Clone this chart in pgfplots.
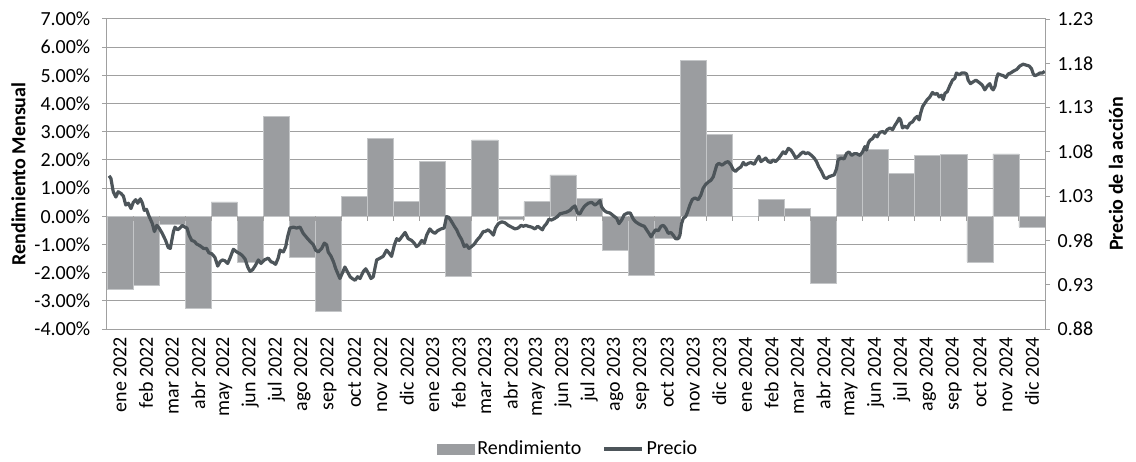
\documentclass[border=0pt]{standalone}
\usepackage{pgfplots}
\pgfplotsset{compat=1.18}
\usepackage{fontspec}
\setmainfont{Carlito}
\definecolor{barfill}{RGB}{155,157,160}
\definecolor{baredge}{RGB}{196,198,200}
\definecolor{linecol}{RGB}{77,85,90}
\definecolor{gridc}{RGB}{160,160,160}
\pgfplotsset{/pgf/number format/assume math mode=true,
  every tick label/.append style={font=\fontsize{15}{18}\selectfont},
  every axis label/.append style={font=\fontsize{15}{18}\selectfont\bfseries}}
\begin{document}
\begin{tikzpicture}[font=\fontsize{15}{18}\selectfont]
\useasboundingbox (-80.25pt,-99pt) rectangle (771.75pt,246.75pt);
\begin{axis}[
  scale only axis, width=703.5pt, height=232.5pt,
  xmin=-0.5, xmax=35.5, ymin=-4, ymax=7,
  axis line style={gridc, line width=0.75pt},
  ytick={-4,-3,-2,-1,0,1,2,3,4,5,6,7},
  yticklabel={\pgfmathprintnumber[fixed,fixed zerofill,precision=2]{\tick}\%},
  yticklabel style={xshift=-5.25pt},
  ytick pos=left, tick align=outside, major tick length=3.75pt,
  ytick style={gridc, line width=0.75pt},
  ymajorgrids, grid style={gridc, line width=0.75pt},
  xtick={0,...,35}, xtick pos=bottom, xtick style={draw=none},
  xticklabels={ene 2022,feb 2022,mar 2022,abr 2022,may 2022,jun 2022,jul 2022,ago 2022,sep 2022,oct 2022,nov 2022,dic 2022,ene 2023,feb 2023,mar 2023,abr 2023,may 2023,jun 2023,jul 2023,ago 2023,sep 2023,oct 2023,nov 2023,dic 2023,ene 2024,feb 2024,mar 2024,abr 2024,may 2024,jun 2024,jul 2024,ago 2024,sep 2024,oct 2024,nov 2024,dic 2024},
  xticklabel style={rotate=90, anchor=east, inner sep=2pt},
  every axis y label/.style={at={(rel axis cs:0,0.5)}, anchor=center, rotate=90, yshift=66.4pt},
  ylabel={Rendimiento Mensual},
  ybar, bar width=1,
  legend columns=2,
  legend style={draw=none, fill=none, at={(rel axis cs:0.492,-0.387)}, anchor=center, font=\fontsize{15}{18}\selectfont, /tikz/every even column/.append style={column sep=14pt}},
]
\addplot[fill=barfill, draw=baredge, line width=0.5pt,
  legend image code/.code={\fill[barfill] (0pt,-3.75pt) rectangle (27.75pt,3.75pt);}]
coordinates {
(0,-2.58) (1,-2.45) (2,-0.27) (3,-3.27) (4,0.51) (5,-1.65) (6,3.53) (7,-1.47) (8,-3.39) (9,0.69) (10,2.75) (11,0.52)
(12,1.95) (13,-2.14) (14,2.71) (15,-0.12) (16,0.52) (17,1.47) (18,0.62) (19,-1.20) (20,-2.11) (21,-0.80) (22,5.53) (23,2.89)
(24,0.00) (25,0.60) (26,0.28) (27,-2.39) (28,2.20) (29,2.38) (30,1.51) (31,2.16) (32,2.20) (33,-1.62) (34,2.21) (35,-0.38)
};
\addlegendentry{Rendimiento}
\addlegendimage{legend image code/.code={\draw[linecol, line width=2.4pt] (0pt,0pt) -- (28.5pt,0pt);}}
\addlegendentry{Precio}
\pgfplotsinvokeforeach{-0.5,0.5,1.5,2.5,3.5,4.5,5.5,6.5,7.5,8.5,9.5,10.5,11.5,12.5,13.5,14.5,15.5,16.5,17.5,18.5,19.5,20.5,21.5,22.5,23.5,24.5,25.5,26.5,27.5,28.5,29.5,30.5,31.5,32.5,33.5,34.5,35.5}{
  \draw[gridc, line width=0.75pt] (axis cs:#1,0) -- ++(0pt,-3.75pt);
}
\end{axis}
\begin{axis}[
  scale only axis, width=703.5pt, height=232.5pt,
  xmin=-0.5, xmax=35.5, ymin=0.88, ymax=1.23,
  axis x line=none, axis y line*=right,
  y axis line style={gridc, line width=0.75pt},
  ytick={0.88,0.93,0.98,1.03,1.08,1.13,1.18,1.23},
  yticklabel style={/pgf/number format/.cd, fixed, fixed zerofill, precision=2, /tikz/.cd, xshift=2.25pt},
  tick align=outside, major tick length=3.75pt,
  ytick style={gridc, line width=0.75pt},
  every axis y label/.style={at={(rel axis cs:1,0.5)}, anchor=center, rotate=90, yshift=-53.25pt},
  ylabel={Precio de la acción},
]
\addplot[linecol, line width=2.4pt, line join=round, no marks] coordinates {
(-0.42,1.053)(-0.35,1.050)(-0.26,1.035)(-0.16,1.029)(-0.07,1.035)(0.04,1.033)(0.13,1.030)(0.22,1.020)(0.32,1.022)(0.42,1.016)(0.51,1.023)(0.60,1.026)(0.68,1.022)(0.78,1.027)(0.86,1.022)(0.93,1.014)(1.02,1.015)(1.09,1.009)(1.15,1.005)(1.24,0.999)(1.32,0.990)(1.41,0.997)(1.50,0.994)(1.62,0.988)(1.75,0.980)(1.85,0.972)(1.93,0.971)(2.05,0.990)(2.11,0.995)(2.21,0.992)(2.30,0.994)(2.39,0.997)(2.49,0.995)(2.57,0.994)(2.65,0.986)(2.75,0.980)(2.85,0.979)(2.94,0.976)(3.07,0.974)(3.20,0.971)(3.32,0.971)(3.41,0.966)(3.52,0.965)(3.64,0.961)(3.75,0.951)(3.84,0.956)(3.93,0.958)(4.03,0.957)(4.13,0.954)(4.22,0.960)(4.35,0.970)(4.48,0.967)(4.60,0.965)(4.69,0.963)(4.80,0.959)(4.90,0.950)(4.99,0.945)(5.09,0.947)(5.20,0.952)(5.31,0.958)(5.41,0.954)(5.54,0.958)(5.69,0.960)(5.79,0.956)(5.88,0.955)(5.97,0.953)(6.07,0.960)(6.14,0.969)(6.27,0.967)(6.36,0.973)(6.43,0.984)(6.52,0.994)(6.65,0.995)(6.78,0.994)(6.91,0.995)(7.03,0.988)
(7.20,0.982)(7.29,0.979)(7.42,0.975)(7.51,0.969)(7.61,0.967)(7.74,0.971)(7.84,0.977)(7.93,0.975)(7.99,0.967)(8.10,0.962)(8.19,0.956)(8.28,0.948)(8.38,0.941)(8.44,0.937)(8.53,0.943)(8.63,0.950)(8.74,0.944)(8.83,0.939)(8.91,0.937)(9.02,0.935)(9.12,0.939)(9.21,0.937)(9.34,0.945)(9.43,0.948)(9.53,0.943)(9.63,0.937)(9.72,0.939)(9.78,0.948)(9.85,0.958)(9.98,0.960)(10.10,0.962)(10.23,0.969)(10.32,0.966)(10.42,0.962)(10.53,0.975)(10.62,0.982)(10.71,0.980)(10.81,0.984)(10.94,0.989)(11.06,0.982)(11.19,0.980)(11.29,0.977)(11.38,0.973)(11.47,0.975)(11.58,0.980)(11.68,0.977)(11.77,0.986)(11.89,0.993)(11.98,0.990)(12.09,0.988)(12.19,0.991)(12.32,0.993)(12.44,0.994)(12.53,1.007)(12.62,1.006)(12.73,1.001)(12.83,0.996)(12.92,0.992)(13.01,0.986)(13.11,0.981)(13.21,0.973)(13.30,0.975)(13.39,0.971)(13.49,0.973)(13.60,0.976)(13.69,0.980)(13.81,0.984)(13.94,0.990)
(14.01,0.990)(14.13,0.992)(14.24,0.989)(14.33,0.986)(14.41,0.994)(14.52,0.999)(14.65,1.001)(14.77,1.000)(14.90,0.997)(15.03,0.995)(15.16,0.993)(15.28,0.994)(15.39,0.997)(15.48,0.996)(15.57,0.997)(15.67,0.996)(15.80,0.995)(15.92,0.993)(16.03,0.996)(16.12,0.994)(16.21,0.992)(16.28,0.996)(16.37,0.999)(16.46,1.004)(16.56,1.003)(16.69,1.005)(16.79,1.007)(16.88,1.010)(17.01,1.011)(17.14,1.012)(17.27,1.014)(17.36,1.017)(17.46,1.019)(17.56,1.011)(17.65,1.010)(17.74,1.015)(17.84,1.019)(17.97,1.022)(18.10,1.023)(18.23,1.020)(18.33,1.022)(18.42,1.025)(18.48,1.018)(18.58,1.014)(18.67,1.012)(18.80,1.011)(18.93,1.008)(19.06,1.005)(19.15,0.999)(19.25,1.003)(19.35,1.009)(19.48,1.011)(19.58,1.011)(19.70,1.004)(19.79,1.001)(19.89,0.999)(20.02,0.997)(20.12,0.996)(20.21,0.992)(20.30,0.988)(20.38,0.984)(20.46,0.988)(20.55,0.992)(20.66,0.991)(20.76,0.996)(20.85,0.997)(20.94,0.994)(21.04,0.988)(21.14,0.989)(21.23,0.986)(21.32,0.982)(21.42,0.982)(21.49,0.986)(21.55,0.999)(21.62,1.005)
(21.71,1.007)(21.78,1.012)(21.87,1.020)(21.96,1.026)(22.06,1.028)(22.19,1.026)(22.29,1.031)(22.38,1.039)(22.47,1.043)(22.58,1.046)(22.68,1.048)(22.77,1.052)(22.83,1.058)(22.90,1.065)(22.98,1.067)(23.11,1.065)(23.24,1.068)(23.34,1.069)(23.45,1.065)(23.53,1.060)(23.62,1.058)(23.73,1.061)(23.83,1.063)(23.92,1.068)(24.01,1.065)(24.11,1.067)(24.21,1.068)(24.34,1.066)(24.43,1.071)(24.52,1.075)(24.60,1.069)(24.69,1.071)(24.78,1.073)(24.88,1.069)(24.98,1.068)(25.07,1.071)(25.16,1.069)(25.26,1.072)(25.36,1.076)(25.45,1.080)(25.54,1.078)(25.65,1.084)(25.75,1.082)(25.84,1.078)(25.93,1.073)(26.03,1.075)(26.13,1.078)(26.22,1.080)(26.31,1.078)(26.41,1.079)(26.54,1.076)(26.64,1.073)(26.73,1.069)(26.82,1.063)(26.92,1.058)(27.03,1.051)(27.12,1.050)(27.21,1.052)(27.31,1.053)(27.41,1.054)(27.50,1.061)(27.56,1.071)(27.67,1.073)(27.79,1.072)(27.88,1.078)(27.97,1.080)(28.08,1.076)(28.18,1.078)(28.27,1.078)
(28.40,1.076)(28.50,1.080)(28.59,1.086)(28.65,1.082)(28.72,1.090)(28.78,1.093)(28.88,1.095)(28.97,1.099)(29.06,1.097)(29.16,1.102)(29.27,1.103)(29.35,1.101)(29.44,1.105)(29.55,1.107)(29.65,1.105)(29.74,1.110)(29.83,1.114)(29.90,1.118)(29.96,1.116)(30.03,1.107)(30.12,1.109)(30.21,1.107)(30.31,1.112)(30.42,1.114)(30.51,1.118)(30.60,1.120)(30.67,1.116)(30.72,1.123)(30.80,1.131)(30.89,1.135)(30.98,1.139)(31.08,1.142)(31.18,1.147)(31.27,1.145)(31.36,1.146)(31.44,1.142)(31.53,1.144)(31.59,1.139)(31.66,1.146)(31.75,1.148)(31.85,1.155)(31.95,1.161)(32.04,1.163)(32.10,1.169)(32.21,1.167)(32.30,1.169)(32.42,1.169)(32.49,1.168)(32.55,1.161)(32.64,1.157)(32.74,1.159)(32.85,1.161)(32.94,1.159)(33.03,1.157)(33.10,1.155)(33.19,1.150)(33.28,1.154)(33.38,1.157)(33.45,1.152)(33.51,1.150)(33.58,1.154)(33.64,1.163)(33.70,1.168)(33.79,1.167)(33.90,1.166)(34.00,1.164)(34.09,1.168)(34.18,1.169)(34.28,1.171)(34.41,1.173)(34.54,1.177)(34.66,1.179)(34.77,1.178)(34.89,1.177)(34.98,1.174)(35.05,1.168)(35.11,1.166)(35.20,1.167)(35.30,1.169)(35.40,1.169)(35.49,1.171)
};
\end{axis}
\end{tikzpicture}
\end{document}
